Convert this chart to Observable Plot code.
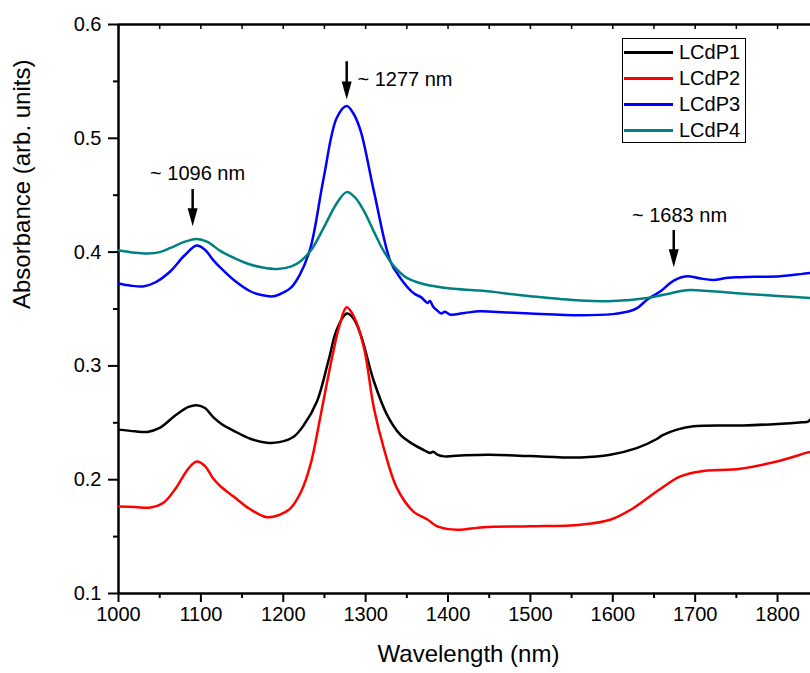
<!DOCTYPE html>
<html><head><meta charset="utf-8">
<script src="https://cdn.jsdelivr.net/npm/d3@7"></script>
<script src="https://cdn.jsdelivr.net/npm/@observablehq/plot@0.6"></script>
<style>
body{margin:0;background:#fff;font-family:"Liberation Sans",Arial,sans-serif;}
#wrap{position:relative;width:810px;height:673px;overflow:hidden}
#legend{position:absolute;left:622px;top:38px;width:122px;height:103px;border:1.5px solid #000;background:#fff;}
.row{position:absolute;left:1px;height:26px;display:flex;align-items:center;font-size:20px;color:#000}
.sw{width:49px;height:3px;margin-right:6px}
</style></head><body><div id="wrap"><div id="chart"></div><div id="legend"></div></div>
<script>
// ---- data ----
const series = ["LCdP1", "LCdP2", "LCdP3", "LCdP4"];
const colors = ["#000000", "#ff0000", "#0000ff", "#008080"];

const wl1 = [1000,1020,1035,1050,1070,1085,1095,1105,1115,1125,1140,1160,1180,1195,1213,1225,1241,1255,1265,1277,1285,1294,1310,1326,1342,1358,1372,1378,1382,1387,1395,1420,1451,1500,1561,1597,1629,1654,1660,1678,1698,1758,1800,1830,1837,1840];
const abs1 = [0.244,0.2425,0.242,0.2455,0.257,0.264,0.2655,0.263,0.255,0.249,0.243,0.236,0.2325,0.233,0.238,0.248,0.269,0.305,0.332,0.346,0.342,0.3275,0.2865,0.257,0.2396,0.231,0.2255,0.2235,0.2245,0.222,0.2205,0.2215,0.222,0.2208,0.2196,0.222,0.2278,0.236,0.239,0.244,0.247,0.2477,0.249,0.2505,0.251,0.253];

const wl2 = [1000,1020,1039,1055,1070,1085,1095,1105,1115,1124,1140,1160,1180,1195,1209,1222,1233,1245,1253,1260,1268,1277,1286,1298,1310,1322,1338,1358,1375,1387,1411,1443,1500,1561,1597,1625,1654,1682,1706,1755,1799,1837,1840];
const abs2 = [0.1765,0.176,0.1756,0.18,0.193,0.21,0.216,0.212,0.201,0.194,0.185,0.174,0.167,0.169,0.175,0.19,0.2132,0.255,0.285,0.31,0.335,0.3515,0.343,0.3157,0.263,0.2278,0.1926,0.172,0.165,0.159,0.156,0.1583,0.159,0.1605,0.1648,0.175,0.19,0.2029,0.2073,0.2097,0.216,0.224,0.2245];

const wl3 = [1000,1015,1031,1045,1063,1080,1095,1105,1115,1124,1140,1160,1175,1188,1200,1209,1220,1233,1249,1265,1277,1285,1294,1310,1330,1342,1358,1368,1375,1378,1382,1387,1392,1396,1403,1420,1439,1470,1500,1561,1600,1620,1630,1642,1658,1674,1690,1705,1722,1740,1755,1803,1820,1840];
const abs3 = [0.3724,0.3705,0.37,0.3735,0.3832,0.397,0.4058,0.402,0.393,0.3861,0.3755,0.3656,0.362,0.3612,0.3645,0.3685,0.38,0.4037,0.465,0.518,0.5283,0.522,0.5063,0.4536,0.392,0.3773,0.364,0.36,0.3553,0.357,0.352,0.3486,0.346,0.3475,0.345,0.3465,0.348,0.347,0.346,0.3445,0.3455,0.348,0.351,0.3583,0.3656,0.375,0.3788,0.377,0.3755,0.3775,0.378,0.3788,0.38,0.3817];

const wl4 = [1000,1020,1035,1050,1063,1080,1095,1108,1124,1140,1160,1175,1193,1210,1221,1235,1249,1265,1277,1287,1298,1310,1322,1335,1350,1370,1403,1439,1500,1561,1600,1642,1665,1690,1720,1763,1800,1840];
const abs4 = [0.4017,0.3995,0.3988,0.4,0.4037,0.409,0.4116,0.409,0.4008,0.395,0.3891,0.3865,0.3852,0.3875,0.392,0.403,0.4213,0.443,0.4527,0.448,0.436,0.418,0.4008,0.387,0.3773,0.372,0.368,0.3662,0.3612,0.3574,0.357,0.3597,0.363,0.3665,0.3655,0.3632,0.3615,0.3597];

const xDomain = [1000, 1840];
const yDomain = [0.1, 0.6];
const majorX = [1000,1100,1200,1300,1400,1500,1600,1700,1800];
const minorX = [1050,1150,1250,1350,1450,1550,1650,1750];
const majorY = [0.1,0.2,0.3,0.4,0.5,0.6];
const minorY = [0.15,0.25,0.35,0.45,0.55];

const annoText = ["~ 1096 nm", "~ 1277 nm", "~ 1683 nm"];
const annoX = [1096, 1290, 1681];
const annoY = [0.4694, 0.5512, 0.4325];
const annoAnchor = ["middle", "start", "middle"];
const arrowX = [1090, 1277, 1674];
const arrowTop = [0.455, 0.5673, 0.419];
const arrowTip = [0.4227, 0.5342, 0.3867];

// ---- build tables ----
const wls = [wl1, wl2, wl3, wl4], abss = [abs1, abs2, abs3, abs4];
const rows = [];
wls.forEach((w, i) => w.forEach((x, j) => rows.push({series: series[i], wl: x, abs: abss[i][j]})));
const annos = annoText.map((t, i) => ({t, x: annoX[i], y: annoY[i], a: annoAnchor[i]}));
const arrows = arrowX.map((x, i) => ({x, top: arrowTop[i], tip: arrowTip[i]}));

const headSymbol = {draw(ctx) { ctx.moveTo(0, 0); ctx.lineTo(-5, -18); ctx.lineTo(5, -18); ctx.closePath(); }};
const FONT = '"Liberation Sans", Arial, Helvetica, sans-serif';

const chart = Plot.plot({
  width: 810, height: 673,
  marginLeft: 118, marginRight: 0, marginTop: 24, marginBottom: 80,
  x: {domain: xDomain},
  y: {domain: yDomain},
  color: {domain: series, range: colors},
  style: {fontFamily: FONT, fontSize: "20px", color: "#000", background: "transparent", overflow: "visible"},
  marks: [
    Plot.axisX({ticks: majorX, tickSize: 9, tickPadding: 4, tickFormat: d => String(d), label: null, strokeWidth: 2, fontSize: 20}),
    Plot.axisX({ticks: minorX, tickSize: 5, text: null, label: null, strokeWidth: 2}),
    Plot.axisX({anchor: "top", ticks: majorX.concat(minorX), tickSize: -4, text: null, label: null, strokeWidth: 1.5}),
    Plot.axisY({ticks: majorY, tickSize: 10, tickPadding: 7, tickFormat: d => d.toFixed(1), label: null, strokeWidth: 2, fontSize: 20}),
    Plot.axisY({ticks: minorY, tickSize: 5, text: null, label: null, strokeWidth: 2}),
    Plot.ruleX([xDomain[0]], {strokeWidth: 2.5}),
    Plot.ruleY(yDomain, {strokeWidth: 2.5}),
    Plot.line(rows, {x: "wl", y: "abs", z: "series", stroke: "series", strokeWidth: 2.5, curve: "catmull-rom", clip: true}),
    Plot.ruleX(arrows, {x: "x", y1: "top", y2: "tip", strokeWidth: 2.5, stroke: "#000", insetBottom: 10}),
    Plot.dot(arrows, {x: "x", y: "tip", symbol: headSymbol, r: 5, fill: "#000", stroke: "none"}),
    Plot.text(annos.filter(d => d.a === "middle"), {x: "x", y: "y", text: "t", textAnchor: "middle", fontSize: 20, fill: "#000"}),
    Plot.text(annos.filter(d => d.a === "start"), {x: "x", y: "y", text: "t", textAnchor: "start", fontSize: 20, fill: "#000"}),
    Plot.text(["Wavelength (nm)"], {frameAnchor: "bottom", dx: 4, dy: 68, fontSize: 24, fill: "#000"}),
    Plot.text(["Absorbance (arb. units)"], {frameAnchor: "left", dx: -96, rotate: -90, fontSize: 24, fill: "#000"})
  ]
});
document.getElementById("chart").appendChild(chart);

// legend
const leg = document.getElementById("legend");
series.forEach((s, i) => {
  const r = document.createElement("div");
  r.className = "row";
  r.style.top = (i * 26) + "px";
  const sw = document.createElement("div");
  sw.className = "sw";
  sw.style.background = colors[i];
  const t = document.createElement("span");
  t.textContent = s;
  r.appendChild(sw); r.appendChild(t);
  leg.appendChild(r);
});
</script></body></html>
